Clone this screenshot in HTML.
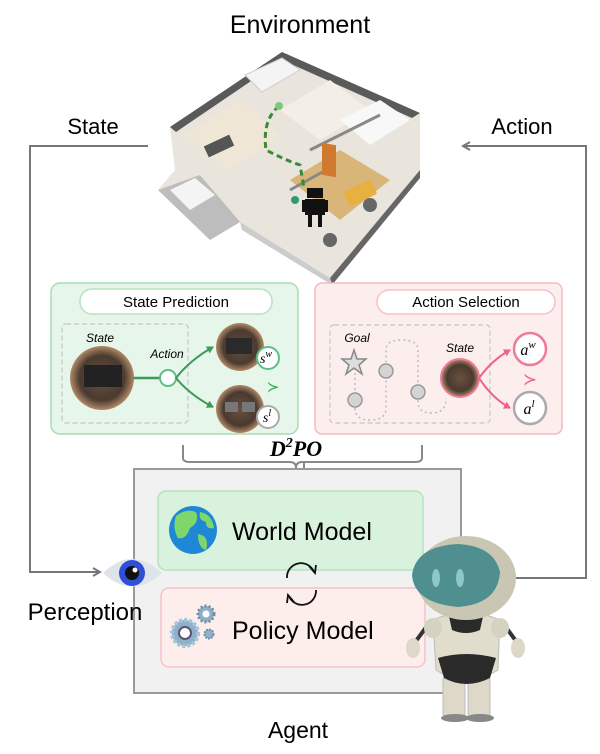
<!DOCTYPE html>
<html><head><meta charset="utf-8"><style>
html,body{margin:0;padding:0;background:#fff;}
svg{display:block;font-family:"Liberation Sans",sans-serif;}
</style></head><body>
<svg width="600" height="754" viewBox="0 0 600 754" xmlns="http://www.w3.org/2000/svg">
<defs>
<marker id="ag" markerWidth="10" markerHeight="10" refX="8" refY="5" orient="auto" markerUnits="userSpaceOnUse"><path d="M1,1 L8,5 L1,9" fill="none" stroke="#777" stroke-width="2"/></marker>
<marker id="gr" markerWidth="8" markerHeight="8" refX="6" refY="4" orient="auto" markerUnits="userSpaceOnUse"><path d="M0,0 L7,4 L0,8z" fill="#3d9a5a"/></marker>
<marker id="pk" markerWidth="8" markerHeight="8" refX="6" refY="4" orient="auto" markerUnits="userSpaceOnUse"><path d="M0,0 L7,4 L0,8z" fill="#f0608a"/></marker>
<radialGradient id="ph" cx="50%" cy="50%" r="50%"><stop offset="0" stop-color="#6a5040"/><stop offset="0.7" stop-color="#4a3a30"/><stop offset="1" stop-color="#b08a66"/></radialGradient>
</defs>

<text x="300" y="33" font-size="25" text-anchor="middle">Environment</text>
<text x="93" y="134" font-size="22" text-anchor="middle">State</text>
<text x="522" y="134" font-size="22" text-anchor="middle">Action</text>

<polyline points="148,146 30,146 30,572 100,572" fill="none" stroke="#777" stroke-width="2" marker-end="url(#ag)"/>
<polyline points="505,578 586,578 586,146 463,146" fill="none" stroke="#777" stroke-width="2" marker-end="url(#ag)"/>

<!-- House -->
<polygon points="170,127 282,52 420,113 420,170 330,278 240,222 210,240 158,190 175,170" fill="#e9e4dc"/>
<polygon points="170,127 282,52 420,113 412,118 282,60 176,132" fill="#5a5a5a"/>
<polygon points="330,278 420,170 420,178 332,285" fill="#666"/>
<polygon points="240,222 330,278 332,285 242,230" fill="#ccc"/>
<polygon points="158,190 210,240 240,222 200,175" fill="#bdbdbd"/>
<polygon points="170,190 195,178 215,195 190,210" fill="#f4f4f4"/>
<polygon points="185,135 240,100 280,135 230,170" fill="#efe6d6"/>
<polygon points="245,75 282,58 300,70 262,92" fill="#f4f4f4" stroke="#ccc"/>
<polygon points="280,110 330,80 370,110 320,140" fill="#f3eee6"/>
<polygon points="290,180 340,150 390,180 340,220" fill="#d9b57a"/>
<polygon points="340,120 380,100 410,120 370,145" fill="#f8f8f8"/>
<line x1="310" y1="150" x2="380" y2="115" stroke="#888" stroke-width="3"/>
<line x1="290" y1="190" x2="335" y2="165" stroke="#888" stroke-width="3"/>
<rect x="322" y="86" width="14" height="32" fill="#d07a30" transform="skewY(10)"/>
<rect x="205" y="140" width="28" height="12" fill="#555" transform="rotate(-25 219 146)"/>
<rect x="345" y="185" width="30" height="16" fill="#e8b040" transform="rotate(-25 360 193)"/>
<circle cx="370" cy="205" r="7" fill="#666"/>
<circle cx="330" cy="240" r="7" fill="#666"/>
<path d="M279,106 Q262,120 266,150 Q285,160 300,165 L304,188" fill="none" stroke="#3a8a3a" stroke-width="3" stroke-dasharray="6,4"/>
<circle cx="279" cy="106" r="4" fill="#7ec87e"/>
<circle cx="295" cy="200" r="4" fill="#2f9a6a"/>
<rect x="307" y="188" width="16" height="10" fill="#111"/>
<rect x="305" y="199" width="20" height="16" fill="#111"/>
<rect x="302" y="200" width="3" height="12" fill="#111"/><rect x="325" y="200" width="3" height="12" fill="#111"/>
<rect x="308" y="215" width="4" height="12" fill="#111"/><rect x="318" y="215" width="4" height="12" fill="#111"/>

<!-- Green panel -->
<rect x="51" y="283" width="247" height="151" rx="9" fill="#e7f6ea" stroke="#a8dcb4" stroke-width="1.5"/>
<rect x="80" y="289" width="192" height="25" rx="12" fill="#fff" stroke="#b9e2c2" stroke-width="1.5"/>
<text x="176" y="307" font-size="15" text-anchor="middle">State Prediction</text>
<rect x="62" y="324" width="126" height="99" rx="4" fill="none" stroke="#ccc" stroke-width="1.5" stroke-dasharray="5,3"/>
<text x="100" y="342" font-size="12" font-style="italic" text-anchor="middle">State</text>
<circle cx="102" cy="378" r="32" fill="url(#ph)"/>
<rect x="84" y="365" width="38" height="22" fill="#222"/>
<text x="167" y="358" font-size="12" font-style="italic" text-anchor="middle">Action</text>
<line x1="133" y1="378" x2="160" y2="378" stroke="#3d9a5a" stroke-width="2.5"/>
<circle cx="168" cy="378" r="8" fill="#fff" stroke="#5bbf86" stroke-width="2"/>
<path d="M176,378 Q190,360 213,347" fill="none" stroke="#3d9a5a" stroke-width="2" marker-end="url(#gr)"/>
<path d="M176,378 Q190,395 213,407" fill="none" stroke="#3d9a5a" stroke-width="2" marker-end="url(#gr)"/>
<circle cx="240" cy="347" r="24" fill="url(#ph)"/>
<rect x="226" y="338" width="26" height="16" fill="#2a2a2a"/>
<circle cx="240" cy="409" r="24" fill="url(#ph)"/>
<rect x="225" y="402" width="13" height="10" fill="#777"/><rect x="242" y="402" width="13" height="10" fill="#777"/>
<circle cx="268" cy="358" r="11" fill="#fff" stroke="#5bbf86" stroke-width="2"/>
<text x="266" y="363" font-size="14" font-family="Liberation Serif" font-style="italic" text-anchor="middle">s<tspan font-size="10" dy="-6">w</tspan></text>
<circle cx="268" cy="417" r="11" fill="#fff" stroke="#aaa" stroke-width="2"/>
<text x="267" y="422" font-size="14" font-family="Liberation Serif" font-style="italic" text-anchor="middle">s<tspan font-size="10" dy="-6">l</tspan></text>
<text x="273" y="392" font-size="15" fill="#2aa84a" text-anchor="middle">≻</text>

<!-- Pink panel -->
<rect x="315" y="283" width="247" height="151" rx="7" fill="#fdeeee" stroke="#f4b8c4" stroke-width="1.5"/>
<rect x="377" y="290" width="178" height="24" rx="12" fill="#fff" stroke="#f7c0cc" stroke-width="1.5"/>
<text x="466" y="307" font-size="15" text-anchor="middle">Action Selection</text>
<rect x="330" y="325" width="160" height="98" rx="4" fill="none" stroke="#ccc" stroke-width="1.5" stroke-dasharray="5,3"/>
<path d="M355,368 L355,408 Q355,420 370,420 Q386,420 386,408 L386,350 Q386,340 402,340 Q418,340 418,350 L418,402 Q418,413 432,413 Q446,413 446,398" fill="none" stroke="#bbb" stroke-width="1.5" stroke-dasharray="2,3"/>
<polygon points="354,350 357,359 366,359 359,365 362,374 354,368 346,374 349,365 342,359 351,359" fill="#ddd" stroke="#888" stroke-width="1.5"/>
<text x="357" y="342" font-size="12" font-style="italic" text-anchor="middle">Goal</text>
<circle cx="355" cy="400" r="7" fill="#d4d4d4" stroke="#999" stroke-width="1.5"/>
<circle cx="386" cy="371" r="7" fill="#d4d4d4" stroke="#999" stroke-width="1.5"/>
<circle cx="418" cy="392" r="7" fill="#d4d4d4" stroke="#999" stroke-width="1.5"/>
<text x="460" y="352" font-size="12" font-style="italic" text-anchor="middle">State</text>
<circle cx="460" cy="378" r="19" fill="url(#ph)" stroke="#f07a9a" stroke-width="2"/>
<path d="M479,378 Q492,360 510,350" fill="none" stroke="#f0608a" stroke-width="2" marker-end="url(#pk)"/>
<path d="M479,378 Q492,398 510,408" fill="none" stroke="#f0608a" stroke-width="2" marker-end="url(#pk)"/>
<circle cx="530" cy="349" r="16" fill="#fff" stroke="#f07a9a" stroke-width="2.5"/>
<text x="528" y="355" font-size="16" font-family="Liberation Serif" font-style="italic" text-anchor="middle">a<tspan font-size="11" dy="-7">w</tspan></text>
<circle cx="530" cy="408" r="16" fill="#fff" stroke="#aaa" stroke-width="2.5"/>
<text x="529" y="414" font-size="16" font-family="Liberation Serif" font-style="italic" text-anchor="middle">a<tspan font-size="11" dy="-7">l</tspan></text>
<text x="530" y="385" font-size="17" fill="#f0608a" text-anchor="middle">≻</text>

<!-- Brace -->
<path d="M183,445 L183,458 Q183,462 190,462 L290,462 Q296,462 296,468 Q296,462 302,462 L415,462 Q422,462 422,458 L422,445" fill="none" stroke="#888" stroke-width="2"/>
<text x="296" y="456" font-size="22" font-weight="bold" font-style="italic" font-family="Liberation Serif" text-anchor="middle">D<tspan font-size="14" dy="-9">2</tspan><tspan dy="9">PO</tspan></text>

<!-- Agent box -->
<line x1="304" y1="462" x2="304" y2="469" stroke="#888" stroke-width="2"/>
<rect x="134" y="469" width="327" height="224" fill="#f1f1f1" stroke="#999" stroke-width="2"/>
<rect x="158" y="491" width="265" height="79" rx="8" fill="#d9f2de" stroke="#b6e2c0" stroke-width="1.5"/>
<rect x="161" y="588" width="264" height="79" rx="8" fill="#fdeeec" stroke="#f7c0cc" stroke-width="1.5"/>
<circle cx="193" cy="530" r="24" fill="#1e88d6"/>
<path d="M176,516 Q186,508 196,512 Q200,522 190,528 Q186,540 178,538 Q172,528 176,516z M200,512 Q212,514 214,528 Q206,530 206,522 Q198,520 200,512z M198,534 Q210,536 206,550 Q198,548 198,534z" fill="#7fd66a"/>
<text x="232" y="540" font-size="25">World Model</text>
<path d="M287,578 A14,14 0 0 1 314,572" fill="none" stroke="#111" stroke-width="1.8"/>
<path d="M309,566 L315,573 L316,565" fill="none" stroke="#111" stroke-width="1.8"/>
<path d="M316,590 A14,14 0 0 1 289,596" fill="none" stroke="#111" stroke-width="1.8"/>
<path d="M294,602 L288,595 L287,603" fill="none" stroke="#111" stroke-width="1.8"/>
<circle cx="185" cy="633" r="13" fill="#8fb0c8" stroke="#a8c4d8" stroke-width="4" stroke-dasharray="3,2"/>
<circle cx="185" cy="633" r="6" fill="#fff" stroke="#557" stroke-width="2"/>
<circle cx="206" cy="614" r="8" fill="#8fb0c8" stroke="#6f8fa8" stroke-width="3" stroke-dasharray="2,2"/>
<circle cx="206" cy="614" r="3.5" fill="#fff"/>
<circle cx="209" cy="634" r="4.5" fill="#8fb0c8" stroke="#6f8fa8" stroke-width="2" stroke-dasharray="2,1"/>
<text x="232" y="639" font-size="25">Policy Model</text>
<text x="298" y="738" font-size="23" text-anchor="middle">Agent</text>

<path d="M103,573 Q132,545 162,573 Q132,600 103,573z" fill="#dfe4ea"/>
<circle cx="132" cy="573" r="13" fill="#2f4fd8"/>
<circle cx="132" cy="573" r="7" fill="#111"/>
<circle cx="135" cy="570" r="2.5" fill="#fff"/>
<text x="85" y="620" font-size="24" text-anchor="middle">Perception</text>

<!-- robot -->
<g>
<rect x="443" y="676" width="22" height="42" rx="4" fill="#ddd8c8" stroke="#bbb"/>
<rect x="468" y="676" width="22" height="42" rx="4" fill="#ddd8c8" stroke="#bbb"/>
<ellipse cx="455" cy="718" rx="14" ry="4" fill="#888"/>
<ellipse cx="480" cy="718" rx="14" ry="4" fill="#888"/>
<path d="M430,622 L413,645 M502,622 L519,645" fill="none" stroke="#333" stroke-width="4"/>
<ellipse cx="413" cy="648" rx="7" ry="10" fill="#ddd8c8"/>
<ellipse cx="518" cy="648" rx="7" ry="10" fill="#ddd8c8"/>
<path d="M433,620 Q466,605 500,620 L498,670 Q466,690 436,670z" fill="#e1ddcd" stroke="#bbb"/>
<path d="M438,658 Q466,650 496,658 L490,678 Q466,690 444,678z" fill="#2a2a2a"/>
<ellipse cx="433" cy="628" rx="9" ry="10" fill="#d6d2c2"/>
<ellipse cx="500" cy="628" rx="9" ry="10" fill="#d6d2c2"/>
<path d="M448,612 Q466,625 484,612 L480,630 Q466,636 452,630z" fill="#2a2a2a"/>
<ellipse cx="466" cy="578" rx="50" ry="42" fill="#c9c6b4"/>
<path d="M412,575 Q416,546 458,544 Q494,546 500,572 Q498,604 458,607 Q414,603 412,575z" fill="#4f8f90"/>
<ellipse cx="436" cy="578" rx="4" ry="9" fill="#8fc6c6"/>
<ellipse cx="460" cy="578" rx="4" ry="9" fill="#8fc6c6"/>
</g>
</svg>
</body></html>
